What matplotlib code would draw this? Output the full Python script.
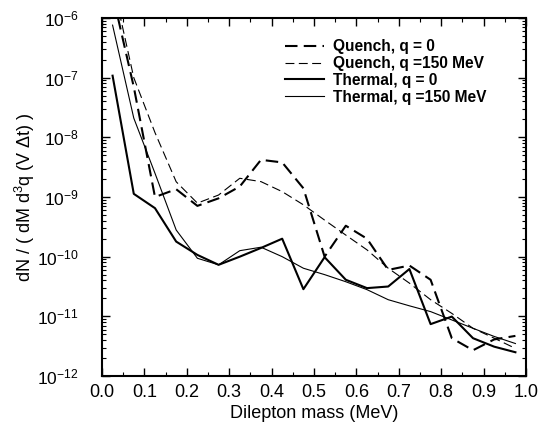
import matplotlib
matplotlib.use("Agg")
import matplotlib.pyplot as plt
from matplotlib.ticker import LogLocator, MultipleLocator, NullFormatter, FormatStrFormatter

plt.rcParams['font.family'] = ['Liberation Sans', 'DejaVu Sans']
plt.rcParams['mathtext.fontset'] = 'custom'
plt.rcParams['mathtext.rm'] = 'Liberation Sans'
plt.rcParams['mathtext.it'] = 'Liberation Sans:italic'
plt.rcParams['mathtext.default'] = 'regular'

mass = [0.025, 0.075, 0.125, 0.175, 0.225, 0.275, 0.325, 0.375, 0.425, 0.475,
        0.525, 0.575, 0.625, 0.675, 0.725, 0.775, 0.825, 0.875, 0.925, 0.975]

quench_q0 = [2.5e-6, 7.0e-8, 1.0e-9, 1.35e-9, 7.1e-10, 9.5e-10, 1.5e-9, 4.2e-9, 3.8e-9, 1.4e-9,
             1.0e-10, 3.3e-10, 2.0e-10, 6.0e-11, 7.1e-11, 4.1e-11, 4.3e-12, 2.7e-12, 4.1e-12, 4.7e-12]
quench_q150 = [4.0e-6, 1.0e-7, 1.2e-8, 1.8e-9, 7.9e-10, 1.08e-9, 2.06e-9, 1.81e-9, 1.23e-9, 7.4e-10,
               4.1e-10, 2.3e-10, 1.3e-10, 6.4e-11, 3.6e-11, 1.9e-11, 1.12e-11, 6.3e-12, 4.3e-12, 2.9e-12]
thermal_q0 = [1.08e-7, 1.13e-9, 6.5e-10, 1.79e-10, 1.07e-10, 7.3e-11, 1.0e-10, 1.4e-10, 2.0e-10, 2.85e-11,
              9.8e-11, 4.1e-11, 2.97e-11, 3.16e-11, 6.2e-11, 7.4e-12, 9.9e-12, 4.3e-12, 3.1e-12, 2.5e-12]
thermal_q150 = [7.6e-7, 2.1e-8, 2.5e-9, 2.8e-10, 9.4e-11, 7.3e-11, 1.26e-10, 1.44e-10, 1.0e-10, 6.4e-11,
                5.0e-11, 3.8e-11, 2.8e-11, 1.9e-11, 1.5e-11, 1.2e-11, 8.7e-12, 6.3e-12, 4.6e-12, 3.5e-12]

labels = ['Quench, q = 0', 'Quench, q =150 MeV', 'Thermal, q = 0', 'Thermal, q =150 MeV']

fig = plt.figure(figsize=(5.39, 4.26), dpi=100)
ax = fig.add_axes([0.1892, 0.1174, 0.7867, 0.8403])

ax.plot(mass, quench_q0, color='black', lw=1.5, dashes=(6, 3), label=labels[0])
ax.plot(mass, quench_q150, color='black', lw=0.8, dashes=(8, 4), label=labels[1])
ax.plot(mass, thermal_q0, color='black', lw=1.5, label=labels[2])
ax.plot(mass, thermal_q150, color='black', lw=0.8, label=labels[3])

ax.set_yscale('log')
ax.set_xlim(0.0, 1.0)
ax.set_ylim(1e-12, 1e-6)
ax.xaxis.set_major_locator(MultipleLocator(0.1))
ax.xaxis.set_minor_locator(MultipleLocator(0.05))
ax.xaxis.set_major_formatter(FormatStrFormatter('%.1f'))
ax.yaxis.set_major_locator(LogLocator(base=10, numticks=10))
ax.yaxis.set_minor_locator(LogLocator(base=10, subs=range(2, 10), numticks=20))
ax.yaxis.set_minor_formatter(NullFormatter())

ax.tick_params(which='both', direction='in', top=True, right=True)
ax.tick_params(which='major', length=6, width=1.0)
ax.tick_params(axis='x', which='major', labelsize=13, pad=6)
ax.tick_params(axis='y', which='major', labelsize=12.5, pad=17)
ax.tick_params(which='minor', length=3, width=0.8)
for s in ax.spines.values():
    s.set_linewidth(1.5)

ax.set_xlabel('Dilepton mass (MeV)', fontsize=13, labelpad=3)
ax.set_ylabel(r'dN / ( dM d$^3$q (V $\Delta$t) )', fontsize=13, labelpad=0)

leg = ax.legend(loc='upper right', frameon=False, prop={'weight': 'bold', 'size': 11.2},
                handlelength=2.5, handletextpad=0.6, labelspacing=0.12,
                bbox_to_anchor=(0.94, 0.98))

fig.savefig('out.png', dpi=100)
